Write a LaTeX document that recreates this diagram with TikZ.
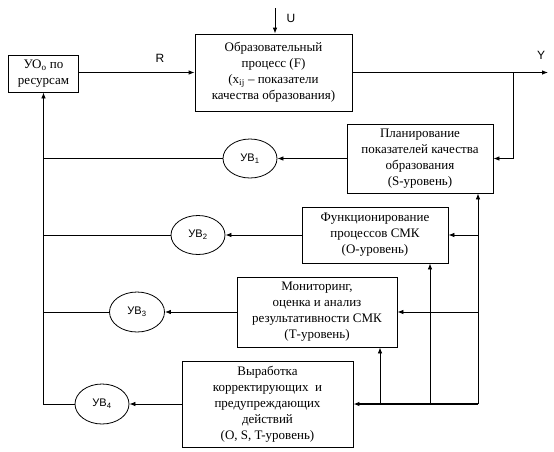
\documentclass[tikz,border=0pt]{standalone}
\usepackage{fontspec}
\setmainfont{Liberation Serif}
\setsansfont{Liberation Sans}
\usepackage{tikz}
\usetikzlibrary{arrows.meta,shapes.geometric,positioning}

\begin{document}
\begin{tikzpicture}[
            x=1pt,
            y=-1pt,
            every node/.style={
                    inner sep=1pt,
                    text centered
                },
            block/.style={
                    draw=black,
                    line width=0.8pt,
                    align=center,
                    inner sep=2pt,
                    font=\fontsize{13}{16}\selectfont
                },
            control/.style={
                    draw=black,
                    ellipse,
                    line width=0.8pt,
                    minimum width=54pt,
                    minimum height=39pt,
                    inner sep=0pt,
                    font=\sffamily\fontsize{11}{13}\selectfont
                },
            signal label/.style={
                    font=\sffamily\fontsize{12}{14}\selectfont
                },
            connecting line/.style={
                    draw=black,
                    line width=0.8pt
                },
            connecting arrow/.style={
                    connecting line,
                    -{Latex[length=6pt,width=4.5pt]}
                }
        ]

        \useasboundingbox (0,0) rectangle (554,451);

        % Blocks
        \node[block, minimum width=70pt, minimum height=37pt] (uo) at (43.5, 73.5) {УО\textsubscript{о} по\\ресурсам};
        \node[block, minimum width=157pt, minimum height=77pt] (proc) at (273.5, 72.5) {Образовательный\\процесс (F)\\(x\textsubscript{ij} – показатели\\качества образования)};
        \node[block, minimum width=146pt, minimum height=69pt] (plan) at (420, 158.5) {Планирование\\показателей качества\\образования\\(S-уровень)};
        \node[block, minimum width=146pt, minimum height=56pt] (func) at (375, 235) {Функционирование\\процессов СМК\\(О-уровень)};
        \node[block, minimum width=160pt, minimum height=70pt] (mon) at (317, 312) {Мониторинг,\\оценка и анализ\\результативности СМК\\(Т-уровень)};
        \node[block, minimum width=171pt, minimum height=86pt] (corr) at (267.5, 404) {Выработка\\корректирующих~ и\\предупреждающих\\действий\\(O, S, T-уровень)};

        % Control elements
        \node[control] (uv1) at (250, 158.5) {УВ\textsubscript{1}};
        \node[control] (uv2) at (198, 235) {УВ\textsubscript{2}};
        \node[control, minimum width=55pt, minimum height=40pt] (uv3) at (137, 312) {УВ\textsubscript{3}};
        \node[control, minimum height=40pt] (uv4) at (102, 404) {УВ\textsubscript{4}};

        % Signal labels
        \node[signal label] (lblR) at (160, 58) {R};
        \node[signal label] (lblU) at (291, 18) {U};
        \node[signal label] (lblY) at (541, 55) {Y};

        % Junctions
        \coordinate (uin) at (275, 8);
        \coordinate (yend) at (548, 72.5);
        \coordinate (ybranch) at (513, 72.5);
        \coordinate (feedR) at (478, 404);
        \coordinate (feedF) at (430, 404);
        \coordinate (feedM) at (380, 404);

        % Main path
        \draw[connecting arrow] (uo.east |- proc.west) -- (proc.west);
        \draw[connecting arrow] (uin) -- (uin |- proc.north);
        \draw[connecting arrow] (proc.east) -- (yend);
        \draw[connecting arrow] (ybranch) |- (plan.east);

        % Levels to control elements
        \draw[connecting arrow] (plan.west) -- (uv1.east);
        \draw[connecting arrow] (func.west) -- (uv2.east);
        \draw[connecting arrow] (mon.west) -- (uv3.east);
        \draw[connecting arrow] (corr.west) -- (uv4.east);

        % Feedback to resources
        \draw[connecting arrow] (uv4.west) -| (uo.south);
        \draw[connecting line] (uv1.west) -- (uv1.west -| uo.south);
        \draw[connecting line] (uv2.west) -- (uv2.west -| uo.south);
        \draw[connecting line] (uv3.west) -- (uv3.west -| uo.south);

        % Corrective actions back to levels
        \draw[connecting arrow, line width=1.4pt] (feedR) -- (corr.east);
        \draw[connecting arrow] (feedR) -- (feedR |- plan.south);
        \draw[connecting arrow] (feedR |- func.east) -- (func.east);
        \draw[connecting arrow] (feedR |- mon.east) -- (mon.east);
        \draw[connecting arrow] (feedF) -- (feedF |- func.south);
        \draw[connecting arrow] (feedM) -- (feedM |- mon.south);

    \end{tikzpicture}
\end{document}
